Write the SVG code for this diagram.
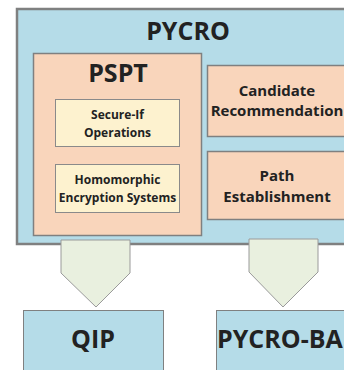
<svg xmlns="http://www.w3.org/2000/svg" width="344" height="370" viewBox="0 0 344 370">
<defs>
<style>
.t{font-family:"Open Sans","Liberation Sans",sans-serif;font-weight:bold;fill:#222;text-anchor:middle}
.ts{text-anchor:start}
.blue{fill:#b5dce8;stroke:#7f8080}
.peach{fill:#f9d5bb;stroke:#7f8080;stroke-width:1.5}
.yel{fill:#fdf2cf;stroke:#8a8a8a;stroke-width:1}
.arr{fill:#e9f0df;stroke:#9a9a9a;stroke-width:1}
</style>
</defs>
<rect width="344" height="370" fill="#ffffff"/>
<g id="pycro">
<rect class="blue" x="17" y="9" width="340" height="235" stroke-width="2.5"/>
<text class="t" x="188" y="40" font-size="25">PYCRO</text>
</g>
<g id="pspt">
<rect class="peach" x="33.5" y="53.5" width="168" height="182"/>
<text class="t" x="118" y="82" font-size="25">PSPT</text>
</g>
<g id="secure-if">
<rect class="yel" x="55.5" y="99.5" width="124" height="47"/>
<text class="t" x="117.5" y="119" font-size="12">Secure-If</text>
<text class="t" x="117.5" y="137" font-size="12">Operations</text>
</g>
<g id="homomorphic">
<rect class="yel" x="55.5" y="164.5" width="124" height="48"/>
<text class="t" x="117.5" y="184" font-size="12">Homomorphic</text>
<text class="t" x="117.5" y="202" font-size="12">Encryption Systems</text>
</g>
<g id="candidate">
<rect class="peach" x="207.5" y="65.5" width="150" height="71"/>
<text class="t" x="277" y="96" font-size="15">Candidate</text>
<text class="t" x="277" y="116" font-size="15">Recommendation</text>
</g>
<g id="path">
<rect class="peach" x="207.5" y="151.5" width="150" height="68"/>
<text class="t" x="277" y="181" font-size="15">Path</text>
<text class="t" x="277" y="202" font-size="15">Establishment</text>
</g>
<g id="connectors">
<polygon class="arr" points="61,240 130,240 130,273 96,307 61,273"/>
<polygon class="arr" points="249,239 318,239 318,272 283,307 249,272"/>
</g>
<g id="qip">
<rect class="blue" x="23.5" y="310.5" width="140" height="70" stroke-width="1"/>
<text class="t" x="93" y="348" font-size="25">QIP</text>
</g>
<g id="pycro-ba">
<rect class="blue" x="216.5" y="310.5" width="150" height="70" stroke-width="1"/>
<text class="t ts" x="217" y="348" font-size="25">PYCRO-BA</text>
</g>
</svg>
